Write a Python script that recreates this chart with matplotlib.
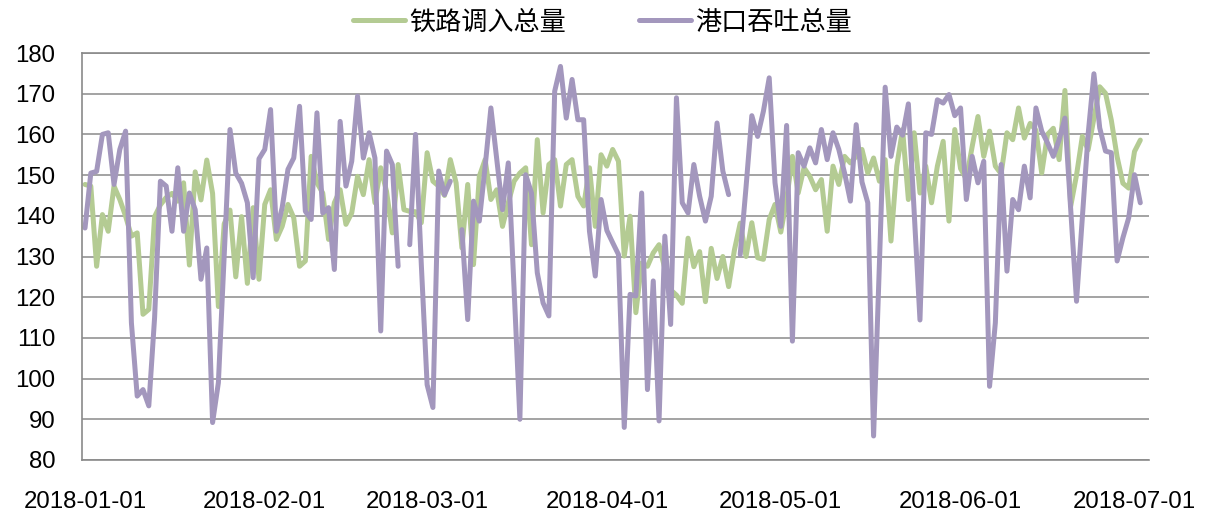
import numpy as np
import pandas as pd
import matplotlib
matplotlib.use('Agg')
import matplotlib.pyplot as plt
from matplotlib import font_manager

nan = np.nan

# daily values, 2018-01-01 onwards
rail_in = [
    147.7, 147.3, 127.6, 140.3, 136.2, 147.3, 144.0, 139.9, 135.0, 135.8,
    115.8, 117.0, 139.8, 142.7, 144.5, 145.5, 143.6, 148.1, 127.9, 150.8,
    143.9, 153.7, 145.5, 117.7, 138.0, 141.4, 125.0, 139.8, 123.4, 142.0,
    124.4, 142.8, 146.4, 134.2, 137.4, 142.8, 139.5, 127.6, 128.9, 154.6,
    148.1, 145.6, 134.2, 143.2, 146.4, 137.9, 140.7, 149.7, 145.2, 153.8,
    143.2, 151.8, 146.0, 135.8, 152.6, 141.5, 141.1, 141.0, 138.3, 155.5,
    148.5, 147.3, 145.0, 153.8, 148.1, 132.1, 147.7, 128.0, 149.7, 153.8,
    144.0, 146.4, 137.4, 143.2, 148.5, 150.5, 151.8, 132.9, 158.7, 140.7,
    152.6, 153.8, 142.4, 152.6, 153.8, 144.8, 142.4, 151.8, 137.4, 155.0,
    152.2, 156.3, 153.4, 130.1, 139.9, 116.2, 128.4, 127.6, 130.9, 132.9,
    127.0, 121.8, 120.5, 118.5, 134.5, 127.5, 131.2, 118.9, 132.0, 124.6,
    130.0, 122.6, 131.6, 138.2, 130.0, 138.3, 129.7, 129.3, 139.1, 142.8,
    136.0, 144.0, 154.6, 145.6, 151.8, 149.7, 146.4, 148.9, 136.2, 152.2,
    147.7, 154.6, 153.0, 154.6, 156.3, 150.5, 154.2, 148.5, 153.8, 133.8,
    152.2, 161.2, 144.0, 160.4, 145.6, 152.2, 143.2, 152.2, 158.3, 138.7,
    161.2, 151.6, 149.0, 157.0, 164.4, 154.6, 160.8, 152.2, 150.3, 160.4,
    158.7, 166.5, 159.1, 162.7, 161.0, 150.5, 160.0, 161.5, 153.8, 170.8,
    142.4, 150.0, 159.5, 156.2, 164.0, 171.7, 170.1, 163.5, 154.5, 148.0,
    146.8, 155.8, 158.6,
]
port_thru = [
    137.0, 150.5, 150.9, 160.0, 160.4, 147.7, 156.3, 160.8, 113.7, 95.7,
    97.3, 93.3, 115.0, 148.5, 147.3, 136.2, 151.8, 136.2, 145.6, 141.5,
    124.4, 132.1, 89.2, 99.0, 130.0, 161.2, 150.5, 148.0, 143.2, 124.8,
    154.0, 156.3, 166.1, 136.2, 142.0, 151.4, 154.2, 166.9, 141.1, 139.1,
    165.3, 140.7, 142.0, 126.8, 163.2, 147.3, 153.4, 169.4, 154.2, 160.4,
    154.2, 111.7, 155.9, 152.6, 127.6, nan, 132.9, 160.0, 128.0, 98.5,
    92.9, 151.0, 145.2, 148.5, nan, 136.6, 114.5, 143.6, 138.7, 152.0,
    166.5, 154.0, 141.5, 153.0, 122.0, 90.0, 150.1, 145.6, 126.0, 118.6,
    115.4, 170.6, 176.7, 164.0, 173.5, 163.6, 163.6, 136.2, 125.2, 144.0,
    136.4, 133.4, 130.5, 88.0, 120.7, 120.3, 145.6, 97.3, 124.0, 89.6,
    135.0, 113.3, 169.0, 143.2, 140.7, 152.6, 144.8, 138.7, 144.8, 162.8,
    151.0, 145.2, nan, 130.5, 147.0, 164.6, 159.5, 165.7, 173.9, 148.1,
    137.4, 162.2, 109.2, 155.5, 152.2, 156.7, 153.0, 161.2, 153.8, 160.4,
    156.3, 150.5, 143.6, 162.4, 148.3, 143.2, 85.9, 128.0, 171.6, 154.6,
    161.8, 159.8, 167.5, 141.0, 114.4, 160.4, 160.0, 168.5, 167.7, 169.8,
    164.6, 166.5, 144.0, 154.6, 148.1, 153.4, 98.1, 113.7, 152.6, 126.4,
    144.0, 141.5, 152.2, 144.4, 166.5, 160.8, 157.9, 154.6, 158.7, 164.0,
    141.5, 119.0, 139.5, 160.0, 174.9, 161.6, 155.9, 155.5, 128.9, 134.6,
    139.5, 150.1, 143.2,
]
dates = pd.date_range('2018-01-01', periods=len(rail_in), freq='D')
names = ['铁路调入总量', '港口吞吐总量']
colors = ['#B4CB93', '#A397BD']
y_ticks = list(range(80, 181, 10))
x_ticks = ['2018-01-01', '2018-02-01', '2018-03-01', '2018-04-01',
           '2018-05-01', '2018-06-01', '2018-07-01']

installed = {f.name for f in font_manager.fontManager.ttflist}
if 'Liberation Sans Narrow' in installed:
    num_font, num_size = 'Liberation Sans Narrow', 20.5
else:
    num_font, num_size = 'Liberation Sans', 17.3
plt.rcParams['font.family'] = [num_font, 'Noto Sans CJK SC', 'DejaVu Sans']

fig = plt.figure(figsize=(12.05, 5.16), dpi=100, facecolor='white')
ax = fig.add_axes([82/1205, 56/516, 1067/1205, 407/516])

grid_c = '#8A8A8A'
for vals, name, c in zip([rail_in, port_thru], names, colors):
    ax.plot(dates, np.array(vals, dtype=float), color=c, lw=3.6, label=name,
            solid_joinstyle='round', solid_capstyle='round')

ax.set_ylim(80, 180)
ax.set_yticks(y_ticks)
ax.set_xlim(dates[0] - pd.Timedelta(hours=12.5), dates[0] + pd.Timedelta(days=183.5))
xt = pd.to_datetime(x_ticks)
ax.set_xticks(xt)
ax.set_xticklabels(x_ticks)
ax.yaxis.grid(True, color=grid_c, lw=1.1)
ax.set_axisbelow(True)
for s in ['left', 'bottom', 'top']:
    ax.spines[s].set_color(grid_c)
    ax.spines[s].set_linewidth(1.2)
ax.spines['right'].set_visible(False)
ax.tick_params(axis='y', length=0, pad=19, labelsize=num_size, colors='black')
ax.tick_params(axis='x', length=0, pad=22, labelsize=num_size, colors='black')

leg = fig.legend(loc='center', bbox_to_anchor=(0.5, 1 - 22/516), ncol=2, frameon=False,
                 prop={'family': ['Noto Sans CJK SC'], 'size': 18.8},
                 handlelength=2.0, handletextpad=0.15, columnspacing=2.8)

fig.savefig('out.png', dpi=100, facecolor='white')
